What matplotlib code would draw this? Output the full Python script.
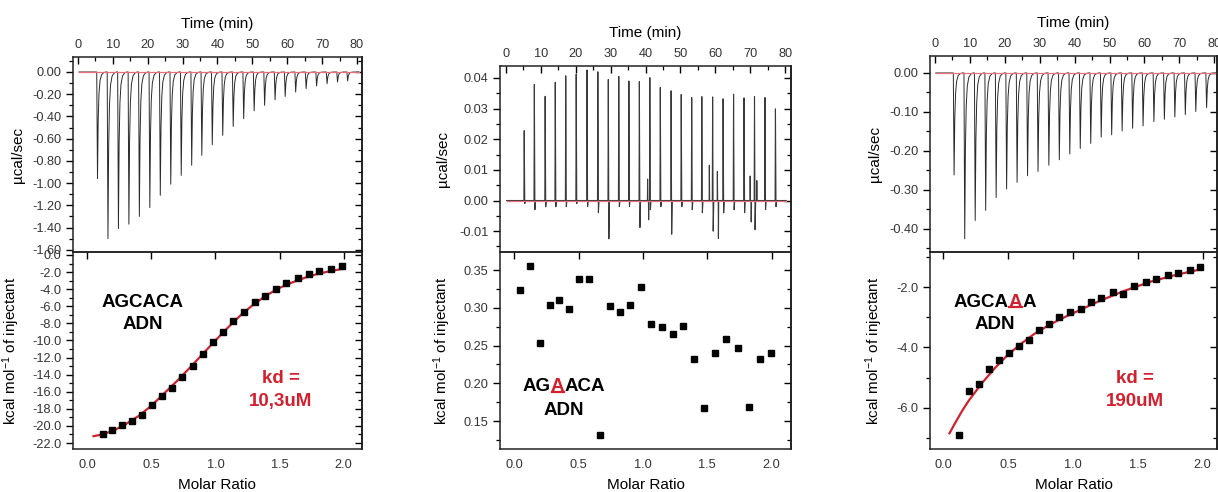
import numpy as np
import matplotlib
matplotlib.use("Agg")
import matplotlib.pyplot as plt
from matplotlib.ticker import MultipleLocator
from matplotlib.lines import Line2D

plt.rcParams['font.family'] = ['Liberation Sans', 'DejaVu Sans']
plt.rcParams['mathtext.fontset'] = 'custom'
plt.rcParams['mathtext.rm'] = 'Liberation Sans'
plt.rcParams['mathtext.default'] = 'regular'

# ---------------- data ----------------
# Panel 1 (AGCACA) raw thermogram: injection times (min) and peak heights (ucal/sec)
p1_inj_time = [5.4, 8.4, 11.4, 14.4, 17.4, 20.4, 23.4, 26.4, 29.4, 32.4, 35.3, 38.3, 41.3,
               44.3, 47.3, 50.3, 53.3, 56.3, 59.2, 62.2, 65.2, 68.2, 71.2, 74.2, 77.1]
p1_peak = [-0.96, -1.50, -1.41, -1.37, -1.30, -1.22, -1.11, -1.01, -0.93, -0.84, -0.75,
           -0.655, -0.57, -0.49, -0.42, -0.35, -0.30, -0.25, -0.22, -0.18, -0.15, -0.125,
           -0.105, -0.09, -0.08]
# Panel 1 integrated heats
p1_ratio = [0.122, 0.197, 0.275, 0.351, 0.426, 0.504, 0.582, 0.66, 0.74, 0.823, 0.90, 0.98,
            1.06, 1.14, 1.22, 1.31, 1.39, 1.47, 1.55, 1.64, 1.73, 1.81, 1.90, 1.99]
p1_heat = [-21.0, -20.5, -19.9, -19.4, -18.7, -17.6, -16.5, -15.6, -14.3, -12.95, -11.55,
           -10.2, -8.98, -7.77, -6.64, -5.55, -4.77, -3.95, -3.25, -2.74, -2.23, -1.92,
           -1.65, -1.34]
p1_fit_x = [0.05, 0.1, 0.2, 0.3, 0.4, 0.5, 0.6, 0.7, 0.8, 0.9, 1.0, 1.1, 1.2, 1.3, 1.4,
            1.5, 1.6, 1.7, 1.8, 1.9, 2.0]
p1_fit_y = [-21.2, -21.05, -20.6, -19.8, -18.85, -17.65, -16.2, -14.75, -13.2, -11.6, -10.0,
            -8.45, -7.0, -5.75, -4.7, -3.85, -3.2, -2.65, -2.2, -1.87, -1.6]

# Panel 2 (AGAACA) raw thermogram: injection times, positive peaks and after-peak dips
p2_inj_time = [5.2, 8.1, 11.2, 14.1, 17.1, 20.1, 23.2, 26.3, 29.3, 32.3, 35.2, 38.2, 41.2,
               44.2, 47.3, 50.2, 53.2, 56.1, 59.2, 62.2, 65.2, 68.2, 71.2, 74.2, 77.2]
p2_peak = [0.0228, 0.0379, 0.0340, 0.0386, 0.0407, 0.0412, 0.0426, 0.0420, 0.0395, 0.0405,
           0.0390, 0.0388, 0.0401, 0.0369, 0.0358, 0.0346, 0.0336, 0.0339, 0.0338, 0.0332,
           0.0347, 0.0335, 0.0339, 0.0336, 0.0299]
p2_dip = [-0.001, -0.003, -0.002, -0.002, -0.002, -0.001, -0.002, -0.004, -0.0125, -0.002,
          -0.002, -0.0088, -0.003, -0.002, -0.011, -0.002, -0.003, -0.004, -0.010, -0.004,
          -0.003, -0.004, -0.0095, -0.003, -0.002]
# extra small spikes in the panel 2 trace (time, value)
p2_extra_time = [40.6, 40.9, 58.3, 60.6, 60.9, 70.0, 70.3, 71.9]
p2_extra_val = [0.007, -0.0063, 0.0115, 0.0095, -0.0124, 0.008, -0.007, 0.0065]
# Panel 2 integrated heats
p2_ratio = [0.047, 0.122, 0.20, 0.275, 0.352, 0.427, 0.505, 0.585, 0.663, 0.741, 0.821,
            0.899, 0.982, 1.065, 1.148, 1.23, 1.31, 1.394, 1.477, 1.562, 1.648, 1.736,
            1.821, 1.907, 1.995]
p2_heat = [0.323, 0.356, 0.253, 0.304, 0.310, 0.298, 0.338, 0.338, 0.131, 0.303, 0.295,
           0.304, 0.327, 0.279, 0.275, 0.265, 0.276, 0.232, 0.167, 0.240, 0.259, 0.247,
           0.168, 0.232, 0.240]

# Panel 3 (AGCAAA) raw thermogram
p3_inj_time = [5.25, 8.3, 11.3, 14.3, 17.3, 20.3, 23.3, 26.3, 29.3, 32.4, 35.4, 38.4, 41.4,
               44.4, 47.4, 50.4, 53.4, 56.4, 59.4, 62.5, 65.5, 68.5, 71.5, 74.5, 77.6]
p3_peak = [-0.262, -0.426, -0.379, -0.353, -0.320, -0.298, -0.281, -0.264, -0.253, -0.237,
           -0.223, -0.208, -0.194, -0.181, -0.165, -0.159, -0.149, -0.142, -0.136, -0.125,
           -0.119, -0.113, -0.107, -0.099, -0.089]
p3_ratio = [0.126, 0.20, 0.275, 0.352, 0.43, 0.506, 0.584, 0.66, 0.74, 0.817, 0.897, 0.977,
            1.06, 1.14, 1.22, 1.31, 1.39, 1.47, 1.56, 1.64, 1.73, 1.81, 1.90, 1.98]
p3_heat = [-6.90, -5.44, -5.20, -4.71, -4.42, -4.17, -3.96, -3.75, -3.43, -3.23, -3.00,
           -2.84, -2.74, -2.48, -2.36, -2.15, -2.23, -1.97, -1.83, -1.75, -1.59, -1.53,
           -1.45, -1.32]
p3_fit_x = [0.05, 0.1, 0.15, 0.2, 0.3, 0.4, 0.5, 0.6, 0.7, 0.8, 0.9, 1.0, 1.2, 1.4, 1.6,
            1.8, 2.0]
p3_fit_y = [-6.84, -6.45, -6.08, -5.75, -5.18, -4.68, -4.24, -3.88, -3.56, -3.30, -3.07,
            -2.87, -2.47, -2.12, -1.82, -1.59, -1.40]

trace_start = [0.3, 0.2, 0.2]
trace_end = [80.5, 80.3, 80.8]

# ---------------- style ----------------
RED = '#d2202e'
PINK = '#e6707c'
TRACE = '#2a2a2a'
TICKC = '#333333'
TFS = 9.2

# exothermic peak profile (time offset, fraction of peak)
EXO_DT = [-0.05, 0.0, 0.22, 0.42, 0.65, 0.95, 1.4, 2.0, 2.6]
EXO_F = [0.0, 0.0, 1.0, 0.45, 0.2, 0.08, 0.025, 0.006, 0.0]


def exo_trace(times, peaks, t0, t1):
    xs, ys = [t0], [0.0]
    for t, h in zip(times, peaks):
        for dt, f in zip(EXO_DT, EXO_F):
            xs.append(t + dt)
            ys.append(h * f)
    xs.append(t1)
    ys.append(0.0)
    return xs, ys


def endo_trace(times, peaks, dips, ex_t, ex_v, t0, t1):
    pts = [(t0, 0.0), (t1, 0.0)]
    for t, h, d in zip(times, peaks, dips):
        pts += [(t - 0.06, 0.0), (t + 0.04, h), (t + 0.12, h * 0.4),
                (t + 0.2, d), (t + 0.38, 0.0)]
    for t, v in zip(ex_t, ex_v):
        pts += [(t - 0.06, 0.0), (t, v), (t + 0.08, 0.0)]
    pts.sort()
    return [p[0] for p in pts], [p[1] for p in pts]


W, H = 1218, 492
fig = plt.figure(figsize=(W / 100, H / 100), dpi=100)


def fbox(l, r, top, bot):
    return [l / W, 1 - bot / H, (r - l) / W, (bot - top) / H]


panels = [
    dict(l=73, r=361.7, top=57, tl=(-1.4, 81.35), ty=(-1.62, 0.135), tmaj=0.2, tmin=0.1,
         tfmt='{:.2f}', bl=(-0.11, 2.14), by=(-22.7, 0.35), bmaj=2.0, bmin=1.0, bfmt='{:.1f}',
         lab_top=-0.167, lab_bot=-0.177),
    dict(l=500, r=791, top=66, tl=(-1.7, 81.7), ty=(-0.0168, 0.0439), tmaj=0.01, tmin=0.005,
         tfmt='{:.2f}', bl=(-0.11, 2.15), by=(0.113, 0.374), bmaj=0.05, bmin=0.025,
         bfmt='{:.2f}', lab_top=-0.172, lab_bot=-0.16),
    dict(l=930, r=1217, top=56, tl=(-1.43, 80.8), ty=(-0.46, 0.0436), tmaj=0.1, tmin=0.05,
         tfmt='{:.2f}', bl=(-0.1, 2.11), by=(-7.36, -0.84), bmaj=2.0, bmin=1.0, bfmt='{:.1f}',
         lab_top=-0.167, lab_bot=-0.156),
]


def inner_right(ax, maj, mnr):
    sec = ax.secondary_yaxis('right')
    sec.yaxis.set_major_locator(MultipleLocator(maj))
    sec.yaxis.set_minor_locator(MultipleLocator(mnr))
    sec.tick_params(which='both', direction='in', labelright=False)
    sec.tick_params(which='major', length=5, width=1)
    sec.tick_params(which='minor', length=3, width=0.9)
    sec.spines['right'].set_linewidth(1.1)


DIV = 252
BOT = 449
axes = []
for i, p in enumerate(panels):
    at = fig.add_axes(fbox(p['l'], p['r'], p['top'], DIV))
    ab = fig.add_axes(fbox(p['l'], p['r'], DIV, BOT))
    axes.append((at, ab))
    for ax in (at, ab):
        for s in ax.spines.values():
            s.set_linewidth(1.1)
            s.set_color('#222222')
    # top panel
    at.set_xlim(*p['tl'])
    at.set_ylim(*p['ty'])
    at.xaxis.set_major_locator(MultipleLocator(10))
    at.xaxis.set_minor_locator(MultipleLocator(5))
    at.yaxis.set_major_locator(MultipleLocator(p['tmaj']))
    at.yaxis.set_minor_locator(MultipleLocator(p['tmin']))
    at.xaxis.tick_top()
    at.xaxis.set_label_position('top')
    at.tick_params(axis='x', which='both', top=True, bottom=False, direction='in',
                   labeltop=True, labelbottom=False, labelsize=TFS, labelcolor=TICKC, pad=4)
    at.tick_params(axis='y', which='both', left=True, right=False, direction='out',
                   labelsize=TFS, labelcolor=TICKC)
    at.tick_params(which='major', length=5, width=1)
    at.tick_params(which='minor', length=3, width=0.9)
    fmt_t = p['tfmt']
    at.yaxis.set_major_formatter(plt.FuncFormatter(
        lambda v, pos, f=fmt_t: f.format(v).replace('-0.00', '0.00')))
    at.set_xlabel('Time (min)', fontsize=11, labelpad=8)
    at.set_ylabel('\u00b5cal/sec', fontsize=11)
    at.yaxis.set_label_coords(p['lab_top'], 0.5)
    inner_right(at, p['tmaj'], p['tmin'])
    # bottom panel
    ab.set_xlim(*p['bl'])
    ab.set_ylim(*p['by'])
    ab.xaxis.set_major_locator(MultipleLocator(0.5))
    ab.xaxis.set_minor_locator(MultipleLocator(0.25))
    ab.yaxis.set_major_locator(MultipleLocator(p['bmaj']))
    ab.yaxis.set_minor_locator(MultipleLocator(p['bmin']))
    ab.tick_params(axis='x', which='both', top=True, bottom=False, direction='in',
                   labelsize=TFS, labelcolor=TICKC, pad=7)
    ab.tick_params(axis='y', which='both', left=True, right=False, direction='out',
                   labelsize=TFS, labelcolor=TICKC)
    ab.tick_params(which='major', length=5, width=1)
    ab.tick_params(which='minor', length=3, width=0.9)
    ab.tick_params(axis='x', which='minor', top=False)
    fmt_b = p['bfmt']
    ab.yaxis.set_major_formatter(plt.FuncFormatter(lambda v, pos, f=fmt_b: f.format(v)))
    ab.xaxis.set_major_formatter(plt.FuncFormatter(lambda v, pos: '{:.1f}'.format(v)))
    ab.set_xlabel('Molar Ratio', fontsize=11, labelpad=5)
    ab.set_ylabel('kcal mol$^{-1}$ of injectant', fontsize=11)
    ab.yaxis.set_label_coords(p['lab_bot'], 0.5)
    ab.patch.set_alpha(0)
    inner_right(ab, p['bmaj'], p['bmin'])

# ---- draw data ----
# panel 1
at, ab = axes[0]
x, y = exo_trace(p1_inj_time, p1_peak, trace_start[0], trace_end[0])
at.plot(x, y, color=TRACE, lw=0.7)
at.plot([trace_start[0], trace_end[0]], [0, 0], color=PINK, lw=0.9)
ab.plot(p1_fit_x, p1_fit_y, color=RED, lw=1.6, zorder=2)
ab.plot(p1_ratio, p1_heat, 's', color='black', ms=5, zorder=3)

# panel 2
at, ab = axes[1]
x, y = endo_trace(p2_inj_time, p2_peak, p2_dip, p2_extra_time, p2_extra_val,
                  trace_start[1], trace_end[1])
at.plot(x, y, color='#3a3a3a', lw=0.8)
at.plot([trace_start[1], trace_end[1]], [0, 0], color=PINK, lw=0.9)
ab.plot(p2_ratio, p2_heat, 's', color='black', ms=5, zorder=3)

# panel 3
at, ab = axes[2]
x, y = exo_trace(p3_inj_time, p3_peak, trace_start[2], trace_end[2])
at.plot(x, y, color=TRACE, lw=0.7)
at.plot([trace_start[2], trace_end[2]], [0, 0], color=PINK, lw=0.9)
ab.plot(p3_fit_x, p3_fit_y, color=RED, lw=1.6, zorder=2)
ab.plot(p3_ratio, p3_heat, 's', color='black', ms=5, zorder=3)

# ---- annotations ----
FS = 13.5
TXT = dict(fontsize=FS, fontweight='bold')


def seq_label(ax, fx, fy, parts):
    full = ''.join(p[0] for p in parts)
    probe = ax.text(fx, fy, full, transform=ax.transAxes, ha='center', va='center',
                    alpha=0, **TXT)
    fig.canvas.draw()
    bb = probe.get_window_extent()
    cur = bb.x0
    for txt, col, ul in parts:
        t = ax.text(cur, (bb.y0 + bb.y1) / 2, txt, transform=None, ha='left', va='center',
                    color=col, **TXT)
        fig.canvas.draw()
        tb = t.get_window_extent()
        if ul:
            inv = ax.transAxes.inverted()
            yy = tb.y0 + 0.2 * tb.height
            (ax0, ay0) = inv.transform((tb.x0 + 0.5, yy))
            (ax1, ay1) = inv.transform((tb.x1 - 0.5, yy))
            ax.add_line(Line2D([ax0, ax1], [ay0, ay1], transform=ax.transAxes,
                               color=col, lw=1.6, clip_on=False))
        cur = tb.x1
    probe.remove()


ab1 = axes[0][1]
ab1.text(0.24, 0.746, 'AGCACA', transform=ab1.transAxes, ha='center', va='center', **TXT)
ab1.text(0.24, 0.63, 'ADN', transform=ab1.transAxes, ha='center', va='center', **TXT)
ab1.text(0.719, 0.36, 'kd =', transform=ab1.transAxes, ha='center', va='center',
         color=RED, **TXT)
ab1.text(0.719, 0.239, '10,3uM', transform=ab1.transAxes, ha='center', va='center',
         color=RED, **TXT)

ab2 = axes[1][1]
seq_label(ab2, 0.22, 0.315, [('AG', 'black', False), ('A', RED, True), ('ACA', 'black', False)])
ab2.text(0.22, 0.193, 'ADN', transform=ab2.transAxes, ha='center', va='center', **TXT)

ab3 = axes[2][1]
seq_label(ab3, 0.226, 0.746, [('AGCA', 'black', False), ('A', RED, True), ('A', 'black', False)])
ab3.text(0.226, 0.63, 'ADN', transform=ab3.transAxes, ha='center', va='center', **TXT)
ab3.text(0.715, 0.36, 'kd =', transform=ab3.transAxes, ha='center', va='center',
         color=RED, **TXT)
ab3.text(0.715, 0.239, '190uM', transform=ab3.transAxes, ha='center', va='center',
         color=RED, **TXT)

fig.savefig('out.png', dpi=100)
